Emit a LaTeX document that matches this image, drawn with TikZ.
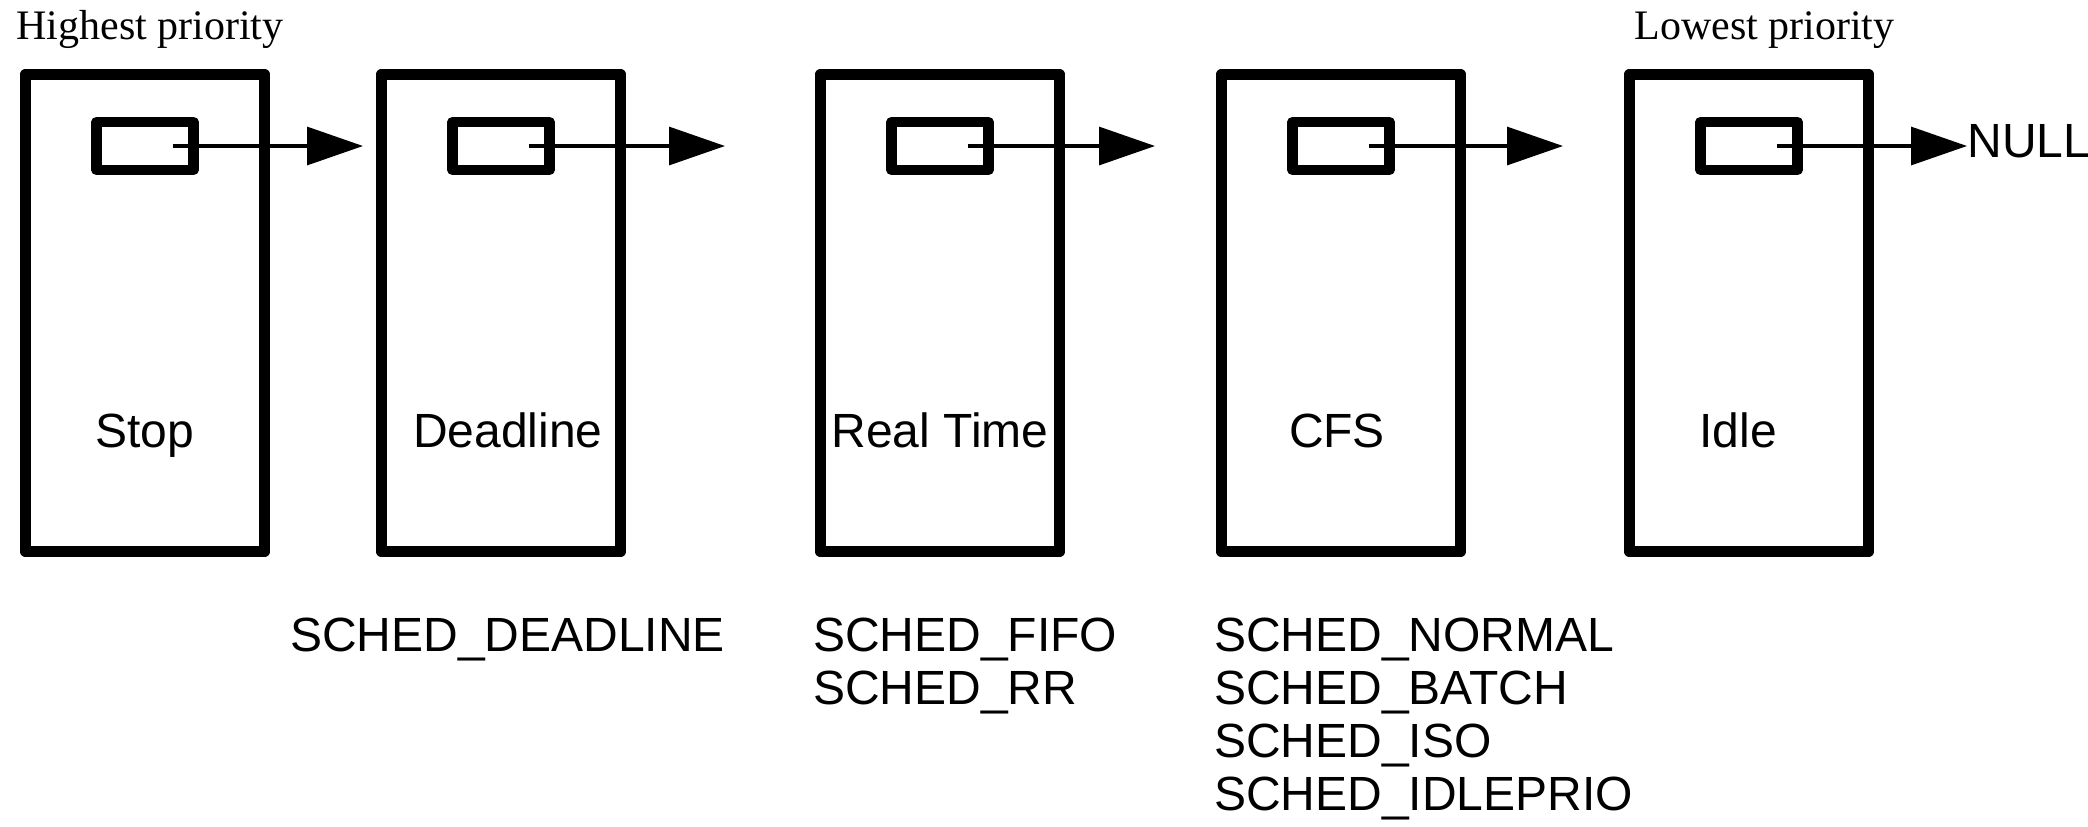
\documentclass[tikz,border=0pt]{standalone}
\usepackage{fontspec}
\setmainfont{Liberation Serif}
\setsansfont{Liberation Sans}
\usetikzlibrary{arrows.meta, positioning}
\tikzset{
    classbox/.style={draw, line width=5.75pt, line join=round, minimum width=119.5pt, minimum height=238.5pt, inner sep=0pt},
    rqbox/.style={draw, line width=5.25pt, line join=round, minimum width=48.5pt, minimum height=24pt, inner sep=0pt},
    nextptr/.style={-{Triangle[length=28pt, width=19pt]}, line width=1.6pt},
    classname/.style={font=\sffamily\fontsize{24}{26.5}\selectfont, anchor=base, inner sep=0pt},
    policies/.style={font=\sffamily\fontsize{24}{26.5}\selectfont, anchor=base west, align=left, inner sep=0pt},
    priority/.style={font=\fontsize{21}{24}\selectfont, anchor=base west, inner sep=0pt}
}

\begin{document}
\begin{tikzpicture}[x=0.5pt, y=-0.5pt]
    \useasboundingbox (0,0) rectangle (2088,826);

    % Priority ends of the list
    \node[priority] (highest) at (16,39) {Highest priority};
    \node[priority] (lowest) at (1634,39) {Lowest priority};

    % Draw the scheduling classes
    \node[classbox] (stop) at (145,313) {};
    \node[classbox] (dl) at (501,313) {};
    \node[classbox] (rt) at (940,313) {};
    \node[classbox] (fair) at (1341,313) {};
    \node[classbox] (idle) at (1749,313) {};

    % Run queue pointer in each class
    \node[rqbox, below=24pt of stop.north] (stopptr) {};
    \node[rqbox, below=24pt of dl.north] (dlptr) {};
    \node[rqbox, below=24pt of rt.north] (rtptr) {};
    \node[rqbox, below=24pt of fair.north] (fairptr) {};
    \node[rqbox, below=24pt of idle.north] (idleptr) {};

    % Class names
    \node[classname] (stoplabel) at ([yshift=-67pt]stop.center) {Stop};
    \node[classname] (dllabel) at ([xshift=3.5pt, yshift=-67pt]dl.center) {Deadline};
    \node[classname] (rtlabel) at ([yshift=-67pt]rt.center) {Real Time};
    \node[classname] (fairlabel) at ([xshift=-2pt, yshift=-67pt]fair.center) {CFS};
    \node[classname] (idlelabel) at ([xshift=-5.5pt, yshift=-67pt]idle.center) {Idle};

    % Policies below the classes (base is the last line)
    \node[policies] (dlpol) at ([xshift=-43pt, yshift=-47pt]dl.south west) {SCHED\_DEADLINE};
    \node[policies] (rtpol) at ([xshift=-1pt, yshift=-73.5pt]rt.south west) {SCHED\_FIFO\\SCHED\_RR};
    \node[policies] (fairpol) at ([xshift=-1pt, yshift=-126.5pt]fair.south west) {SCHED\_NORMAL\\SCHED\_BATCH\\SCHED\_ISO\\SCHED\_IDLEPRIO};

    % Next pointers
    \coordinate (stopend) at (363,146);
    \coordinate (dlend) at (725,146);
    \coordinate (rtend) at (1155,146);
    \coordinate (fairend) at (1563,146);
    \node[font=\sffamily\fontsize{24}{26.5}\selectfont, anchor=base west, inner sep=0pt] (null) at (1967,157) {NULL};

    \draw[nextptr] ([xshift=13.75pt]stopptr.center) -- (stopend);
    \draw[nextptr] ([xshift=13.75pt]dlptr.center) -- (dlend);
    \draw[nextptr] ([xshift=13.75pt]rtptr.center) -- (rtend);
    \draw[nextptr] ([xshift=13.75pt]fairptr.center) -- (fairend);
    \draw[nextptr] ([xshift=13.75pt]idleptr.center) -- (idleptr.center -| null.west);
\end{tikzpicture}
\end{document}
